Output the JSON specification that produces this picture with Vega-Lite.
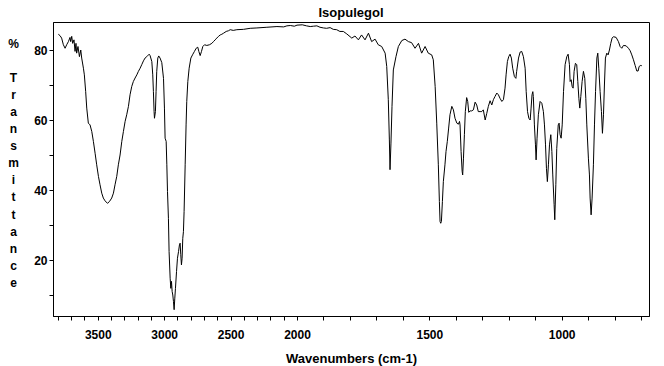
{
  "$schema": "https://vega.github.io/schema/vega-lite/v6.json",
  "autosize": {"type": "none"},
  "width": 596,
  "height": 294,
  "padding": {"left": 53, "top": 22, "right": 15, "bottom": 50},
  "background": "white",
  "title": {"text": "Isopulegol", "fontSize": 13, "fontWeight": "bold", "font": "Liberation Sans", "color": "black", "offset": 2, "anchor": "middle"},
  "config": {
    "view": {"stroke": "black", "strokeWidth": 1},
    "axis": {
      "grid": false, "domainColor": "black", "tickColor": "black", "labelColor": "black", "titleColor": "black",
      "labelFont": "Liberation Sans", "titleFont": "Liberation Sans", "labelFontWeight": "bold", "titleFontWeight": "bold",
      "labelFontSize": 12, "titleFontSize": 13, "tickSize": 4, "labelOverlap": false
    }
  },
  "data": {"values": [
    {"wn": 3797, "t": 84.6}, {"wn": 3784, "t": 84.2}, {"wn": 3772, "t": 83.5}, {"wn": 3759, "t": 81.6}, {"wn": 3746, "t": 80.6},
    {"wn": 3734, "t": 81.6}, {"wn": 3721, "t": 82.5}, {"wn": 3709, "t": 83.7}, {"wn": 3704, "t": 82.5}, {"wn": 3696, "t": 84.0},
    {"wn": 3689, "t": 82.0}, {"wn": 3679, "t": 83.0}, {"wn": 3671, "t": 79.7}, {"wn": 3664, "t": 82.0}, {"wn": 3659, "t": 79.2},
    {"wn": 3649, "t": 81.1}, {"wn": 3638, "t": 78.2}, {"wn": 3628, "t": 80.1}, {"wn": 3621, "t": 77.8}, {"wn": 3608, "t": 74.9},
    {"wn": 3601, "t": 73.0}, {"wn": 3591, "t": 68.2}, {"wn": 3583, "t": 63.5}, {"wn": 3571, "t": 59.2}, {"wn": 3558, "t": 58.7},
    {"wn": 3545, "t": 56.8}, {"wn": 3533, "t": 54.0}, {"wn": 3520, "t": 50.6}, {"wn": 3508, "t": 47.3}, {"wn": 3495, "t": 44.0},
    {"wn": 3483, "t": 41.6}, {"wn": 3470, "t": 39.2}, {"wn": 3458, "t": 37.8}, {"wn": 3445, "t": 37.0}, {"wn": 3427, "t": 36.3},
    {"wn": 3412, "t": 36.8}, {"wn": 3395, "t": 37.8}, {"wn": 3382, "t": 39.2}, {"wn": 3370, "t": 41.6}, {"wn": 3357, "t": 44.0},
    {"wn": 3345, "t": 47.3}, {"wn": 3332, "t": 50.1}, {"wn": 3319, "t": 54.0}, {"wn": 3307, "t": 56.8}, {"wn": 3294, "t": 59.7},
    {"wn": 3282, "t": 61.6}, {"wn": 3269, "t": 64.0}, {"wn": 3257, "t": 67.3}, {"wn": 3244, "t": 69.7}, {"wn": 3232, "t": 71.1},
    {"wn": 3219, "t": 72.1}, {"wn": 3206, "t": 73.0}, {"wn": 3194, "t": 74.0}, {"wn": 3181, "t": 74.9}, {"wn": 3169, "t": 75.9},
    {"wn": 3156, "t": 77.0}, {"wn": 3144, "t": 77.8}, {"wn": 3131, "t": 78.2}, {"wn": 3113, "t": 78.9}, {"wn": 3106, "t": 78.5},
    {"wn": 3093, "t": 76.8}, {"wn": 3086, "t": 73.0}, {"wn": 3081, "t": 68.2}, {"wn": 3076, "t": 62.5}, {"wn": 3073, "t": 60.6},
    {"wn": 3066, "t": 62.5}, {"wn": 3061, "t": 68.2}, {"wn": 3056, "t": 74.0}, {"wn": 3048, "t": 77.8}, {"wn": 3041, "t": 78.4},
    {"wn": 3031, "t": 77.8}, {"wn": 3018, "t": 76.5}, {"wn": 3005, "t": 72.0}, {"wn": 2998, "t": 63.5}, {"wn": 2993, "t": 54.9},
    {"wn": 2985, "t": 54.0}, {"wn": 2980, "t": 47.3}, {"wn": 2975, "t": 39.7}, {"wn": 2968, "t": 32.0}, {"wn": 2963, "t": 22.5},
    {"wn": 2955, "t": 14.9}, {"wn": 2950, "t": 12.0}, {"wn": 2945, "t": 14.0}, {"wn": 2940, "t": 11.1}, {"wn": 2935, "t": 10.1},
    {"wn": 2930, "t": 8.2}, {"wn": 2925, "t": 5.9}, {"wn": 2920, "t": 9.2}, {"wn": 2915, "t": 12.0}, {"wn": 2907, "t": 16.8},
    {"wn": 2900, "t": 20.6}, {"wn": 2892, "t": 22.5}, {"wn": 2885, "t": 24.4}, {"wn": 2880, "t": 24.9}, {"wn": 2875, "t": 21.6},
    {"wn": 2870, "t": 18.7}, {"wn": 2865, "t": 20.6}, {"wn": 2860, "t": 26.3}, {"wn": 2855, "t": 28.2}, {"wn": 2850, "t": 34.0},
    {"wn": 2842, "t": 47.3}, {"wn": 2835, "t": 58.7}, {"wn": 2830, "t": 65.4}, {"wn": 2822, "t": 71.1}, {"wn": 2812, "t": 74.9},
    {"wn": 2799, "t": 77.8}, {"wn": 2784, "t": 78.9}, {"wn": 2772, "t": 79.7}, {"wn": 2759, "t": 80.6}, {"wn": 2747, "t": 80.9},
    {"wn": 2739, "t": 79.7}, {"wn": 2729, "t": 78.5}, {"wn": 2719, "t": 79.7}, {"wn": 2709, "t": 81.1}, {"wn": 2696, "t": 81.6},
    {"wn": 2679, "t": 81.4}, {"wn": 2659, "t": 81.6}, {"wn": 2641, "t": 82.0}, {"wn": 2629, "t": 82.5}, {"wn": 2616, "t": 83.0},
    {"wn": 2604, "t": 83.5}, {"wn": 2591, "t": 84.0}, {"wn": 2578, "t": 84.4}, {"wn": 2566, "t": 84.6}, {"wn": 2553, "t": 84.9},
    {"wn": 2533, "t": 85.4}, {"wn": 2516, "t": 85.6}, {"wn": 2503, "t": 85.9}, {"wn": 2480, "t": 85.7}, {"wn": 2453, "t": 85.9},
    {"wn": 2403, "t": 86.0}, {"wn": 2352, "t": 86.3}, {"wn": 2302, "t": 86.4}, {"wn": 2227, "t": 86.6}, {"wn": 2151, "t": 86.8},
    {"wn": 2100, "t": 86.7}, {"wn": 2076, "t": 87.0}, {"wn": 2050, "t": 87.1}, {"wn": 2020, "t": 86.9}, {"wn": 2000, "t": 87.2},
    {"wn": 1980, "t": 87.3}, {"wn": 1964, "t": 87.0}, {"wn": 1950, "t": 86.8}, {"wn": 1938, "t": 86.9}, {"wn": 1925, "t": 87.0},
    {"wn": 1913, "t": 86.6}, {"wn": 1900, "t": 86.4}, {"wn": 1888, "t": 86.3}, {"wn": 1875, "t": 86.5}, {"wn": 1863, "t": 86.0},
    {"wn": 1850, "t": 85.9}, {"wn": 1838, "t": 85.4}, {"wn": 1825, "t": 85.4}, {"wn": 1812, "t": 84.7}, {"wn": 1793, "t": 83.5},
    {"wn": 1781, "t": 84.1}, {"wn": 1768, "t": 83.0}, {"wn": 1756, "t": 84.4}, {"wn": 1743, "t": 83.0}, {"wn": 1730, "t": 84.9},
    {"wn": 1718, "t": 82.5}, {"wn": 1705, "t": 83.2}, {"wn": 1693, "t": 81.6}, {"wn": 1680, "t": 81.1}, {"wn": 1667, "t": 79.2},
    {"wn": 1661, "t": 75.4}, {"wn": 1655, "t": 65.9}, {"wn": 1651, "t": 54.4}, {"wn": 1648.5, "t": 45.9}, {"wn": 1645, "t": 53.5},
    {"wn": 1641, "t": 64.0}, {"wn": 1636, "t": 74.4}, {"wn": 1626, "t": 78.2}, {"wn": 1617, "t": 81.1}, {"wn": 1604, "t": 82.8},
    {"wn": 1592, "t": 83.2}, {"wn": 1579, "t": 82.5}, {"wn": 1567, "t": 82.2}, {"wn": 1554, "t": 80.6}, {"wn": 1541, "t": 82.0},
    {"wn": 1529, "t": 79.2}, {"wn": 1516, "t": 81.1}, {"wn": 1504, "t": 79.2}, {"wn": 1491, "t": 78.7}, {"wn": 1485, "t": 77.3},
    {"wn": 1478, "t": 69.7}, {"wn": 1472, "t": 59.2}, {"wn": 1466, "t": 47.3}, {"wn": 1462, "t": 36.8}, {"wn": 1459.5, "t": 31.1},
    {"wn": 1457, "t": 30.6}, {"wn": 1454.4, "t": 31.1}, {"wn": 1450.6, "t": 36.8}, {"wn": 1447, "t": 42.5}, {"wn": 1441, "t": 47.3},
    {"wn": 1437, "t": 51.1}, {"wn": 1432, "t": 54.0}, {"wn": 1427, "t": 57.8}, {"wn": 1422, "t": 61.6}, {"wn": 1415, "t": 64.0},
    {"wn": 1409, "t": 63.0}, {"wn": 1403, "t": 60.6}, {"wn": 1396, "t": 59.2}, {"wn": 1390, "t": 58.9}, {"wn": 1386, "t": 59.7},
    {"wn": 1384, "t": 58.7}, {"wn": 1380, "t": 51.1}, {"wn": 1376, "t": 45.4}, {"wn": 1374, "t": 44.4}, {"wn": 1371, "t": 49.2},
    {"wn": 1367.5, "t": 55.9}, {"wn": 1364, "t": 62.5}, {"wn": 1359, "t": 66.5}, {"wn": 1355, "t": 65.4}, {"wn": 1351, "t": 62.3},
    {"wn": 1346, "t": 62.7}, {"wn": 1340, "t": 62.7}, {"wn": 1333.5, "t": 63.0}, {"wn": 1327, "t": 65.2}, {"wn": 1321, "t": 64.4},
    {"wn": 1315, "t": 62.5}, {"wn": 1308, "t": 62.5}, {"wn": 1302, "t": 62.5}, {"wn": 1296, "t": 63.0}, {"wn": 1289, "t": 60.1},
    {"wn": 1283, "t": 62.0}, {"wn": 1277, "t": 64.0}, {"wn": 1270.5, "t": 65.6}, {"wn": 1264, "t": 64.4}, {"wn": 1258, "t": 65.9},
    {"wn": 1252, "t": 66.8}, {"wn": 1245, "t": 67.8}, {"wn": 1239, "t": 67.3}, {"wn": 1233, "t": 66.3}, {"wn": 1226, "t": 65.4},
    {"wn": 1220, "t": 65.9}, {"wn": 1214, "t": 69.2}, {"wn": 1210, "t": 73.0}, {"wn": 1205, "t": 76.8}, {"wn": 1200, "t": 78.2},
    {"wn": 1195, "t": 78.9}, {"wn": 1190, "t": 77.8}, {"wn": 1185, "t": 74.9}, {"wn": 1178.5, "t": 72.5}, {"wn": 1173, "t": 72.0},
    {"wn": 1170, "t": 74.0}, {"wn": 1163, "t": 77.8}, {"wn": 1157, "t": 79.5}, {"wn": 1151, "t": 79.7}, {"wn": 1144.5, "t": 78.2},
    {"wn": 1138, "t": 74.9}, {"wn": 1134, "t": 68.2}, {"wn": 1129, "t": 62.5}, {"wn": 1124, "t": 60.6}, {"wn": 1119, "t": 60.1},
    {"wn": 1115.5, "t": 63.5}, {"wn": 1112, "t": 67.3}, {"wn": 1109, "t": 68.2}, {"wn": 1107, "t": 66.8}, {"wn": 1103, "t": 58.7},
    {"wn": 1099, "t": 53.0}, {"wn": 1096.6, "t": 48.7}, {"wn": 1093, "t": 54.9}, {"wn": 1088, "t": 61.6}, {"wn": 1081.5, "t": 65.4},
    {"wn": 1075, "t": 64.9}, {"wn": 1069, "t": 62.5}, {"wn": 1065, "t": 58.7}, {"wn": 1061, "t": 53.0}, {"wn": 1057.5, "t": 46.3},
    {"wn": 1054, "t": 42.5}, {"wn": 1050, "t": 47.3}, {"wn": 1046, "t": 53.0}, {"wn": 1041, "t": 55.9}, {"wn": 1037, "t": 51.1},
    {"wn": 1033.6, "t": 44.4}, {"wn": 1028.5, "t": 35.9}, {"wn": 1026, "t": 31.6}, {"wn": 1022, "t": 41.6}, {"wn": 1018.5, "t": 52.0},
    {"wn": 1013, "t": 58.7}, {"wn": 1009.6, "t": 59.2}, {"wn": 1006, "t": 55.9}, {"wn": 1002, "t": 54.9}, {"wn": 998, "t": 58.7},
    {"wn": 993, "t": 68.2}, {"wn": 987, "t": 75.9}, {"wn": 980.6, "t": 78.2}, {"wn": 975.6, "t": 78.9}, {"wn": 970.6, "t": 75.9},
    {"wn": 968, "t": 71.1}, {"wn": 964, "t": 71.6}, {"wn": 960.5, "t": 69.7}, {"wn": 956.7, "t": 69.2}, {"wn": 953, "t": 74.0},
    {"wn": 948, "t": 76.3}, {"wn": 943, "t": 75.9}, {"wn": 939, "t": 71.1}, {"wn": 935, "t": 66.3}, {"wn": 931.5, "t": 63.5},
    {"wn": 927.7, "t": 66.8}, {"wn": 922.7, "t": 71.1}, {"wn": 917.7, "t": 74.0}, {"wn": 912.6, "t": 72.0}, {"wn": 908.8, "t": 66.3},
    {"wn": 905, "t": 58.7}, {"wn": 899, "t": 49.2}, {"wn": 895, "t": 44.4}, {"wn": 892.5, "t": 37.8}, {"wn": 888.7, "t": 33.0},
    {"wn": 885, "t": 37.8}, {"wn": 880, "t": 47.3}, {"wn": 876, "t": 58.7}, {"wn": 872, "t": 68.2}, {"wn": 867, "t": 77.8},
    {"wn": 863.5, "t": 79.2}, {"wn": 859.7, "t": 74.9}, {"wn": 854.7, "t": 68.2}, {"wn": 849.7, "t": 62.5}, {"wn": 845.9, "t": 56.3},
    {"wn": 842, "t": 61.6}, {"wn": 838.4, "t": 70.1}, {"wn": 834.6, "t": 77.8}, {"wn": 829.5, "t": 79.2}, {"wn": 824.5, "t": 78.7},
    {"wn": 819.5, "t": 80.1}, {"wn": 814.5, "t": 82.0}, {"wn": 809.4, "t": 83.5}, {"wn": 804.4, "t": 83.9}, {"wn": 794.3, "t": 83.7},
    {"wn": 785.5, "t": 82.5}, {"wn": 779.2, "t": 81.1}, {"wn": 772.9, "t": 80.6}, {"wn": 766.6, "t": 81.4}, {"wn": 756.4, "t": 81.3},
    {"wn": 747.6, "t": 80.6}, {"wn": 741.3, "t": 79.9}, {"wn": 735, "t": 78.7}, {"wn": 728.7, "t": 77.3}, {"wn": 722.4, "t": 75.7},
    {"wn": 716.1, "t": 74.1}, {"wn": 711.1, "t": 74.1}, {"wn": 707.3, "t": 75.4}, {"wn": 701, "t": 75.7}, {"wn": 697.2, "t": 75.6}
  ]},
  "mark": {"type": "line", "color": "black", "strokeWidth": 1, "interpolate": "linear"},
  "encoding": {
    "x": {
      "field": "wn", "type": "quantitative",
      "scale": {"domain": [3837, 2000, 670], "range": [0, 244, 596], "zero": false, "nice": false},
      "axis": {
        "title": "Wavenumbers (cm-1)", "titlePadding": 12, "format": "d",
        "values": [3800, 3700, 3600, 3500, 3400, 3300, 3200, 3100, 3000, 2900, 2800, 2700, 2600, 2500, 2400, 2300, 2200, 2100, 2000, 1900, 1800, 1700, 1600, 1500, 1400, 1300, 1200, 1100, 1000, 900, 800, 700],
        "labelExpr": "datum.value % 500 === 0 ? datum.label : ''",
        "labelPadding": 9
      }
    },
    "y": {
      "field": "t", "type": "quantitative",
      "scale": {"domain": [4.1, 88.1], "zero": false, "nice": false},
      "axis": {
        "title": ["%", "\u2800", "T", "r", "a", "n", "s", "m", "i", "t", "t", "a", "n", "c", "e"],
        "titleAngle": 0, "titleX": -40, "titleY": 16, "titleAlign": "center", "titleBaseline": "top",
        "titleLineHeight": 17.1, "titleFontSize": 12,
        "values": [10, 20, 30, 40, 50, 60, 70, 80],
        "labelExpr": "datum.value % 20 === 0 ? datum.label : ''",
        "labelPadding": 2
      }
    }
  }
}
